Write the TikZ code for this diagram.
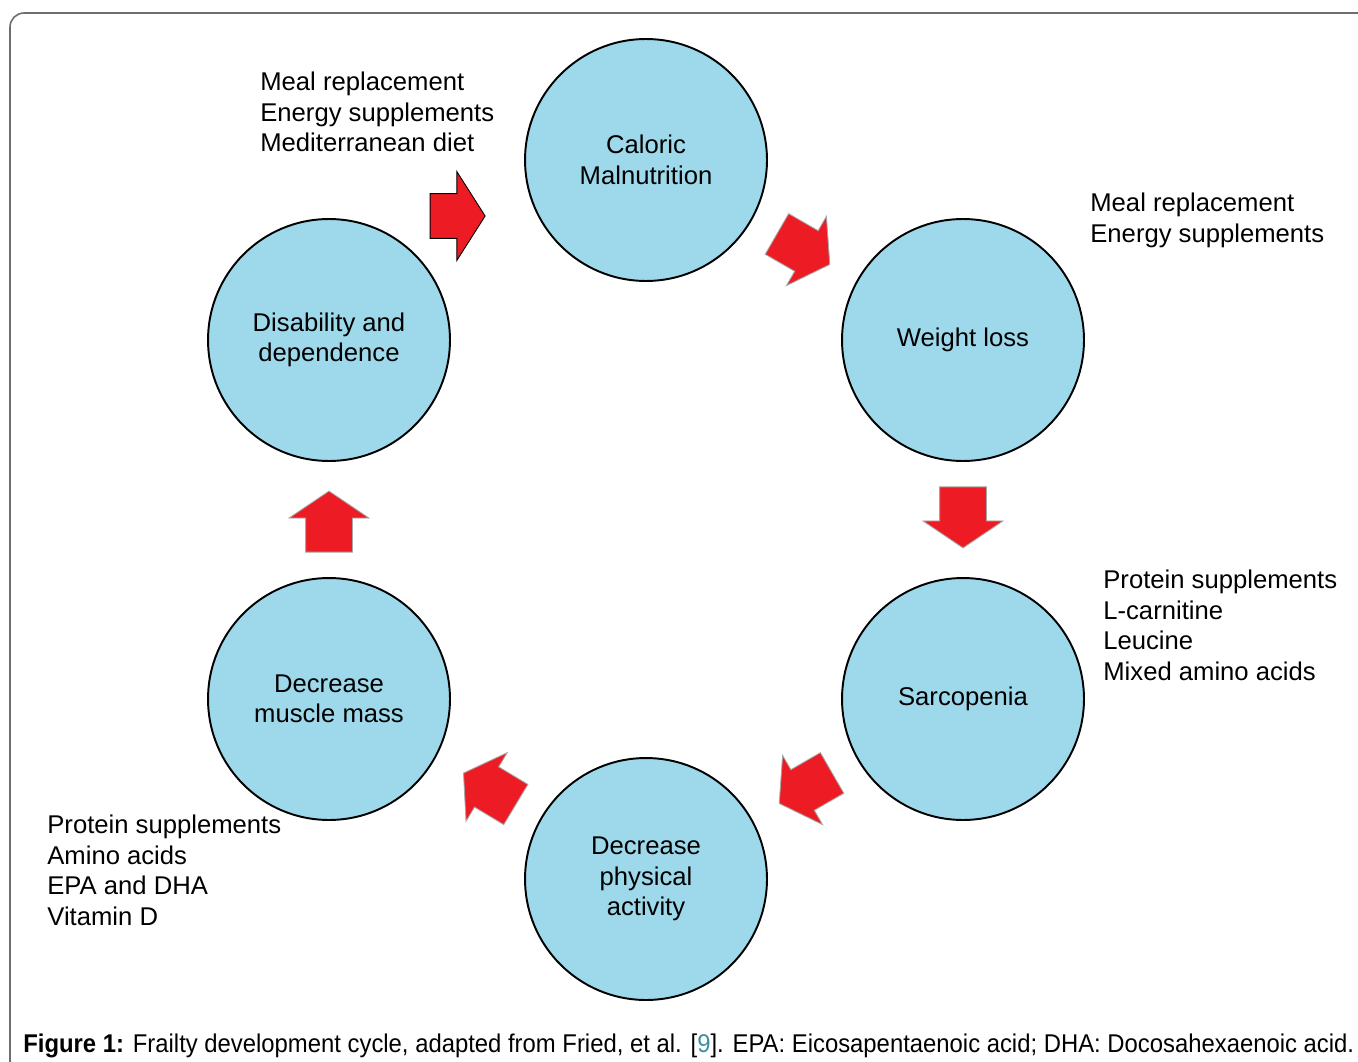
\documentclass[tikz,border=0pt]{standalone}
\usepackage{fontspec}
\setmainfont{Liberation Sans}
\usetikzlibrary{shapes.arrows,positioning}
\definecolor{cyclefill}{HTML}{9DD9EA}
\definecolor{arrowred}{HTML}{ED1C24}
\definecolor{framegray}{HTML}{6E6E6E}
\definecolor{reflink}{HTML}{3B8EA5}
\newcommand{\figfont}{\fontsize{14.6}{17.3}\selectfont}

\begin{document}
\begin{tikzpicture}[x=0.02cm, y=-0.02cm,
  stage/.style={circle, draw=black, line width=1.1pt, fill=cyclefill,
    minimum size=4.84cm, inner sep=0pt, align=center, font=\figfont},
  blockarrow/.style={single arrow, fill=arrowred, draw=black!35, line width=0.5pt,
    inner xsep=0pt, inner ysep=0.46cm, minimum height=1.22cm,
    single arrow head extend=0.33cm, single arrow tip angle=112},
  pointing/.style={rotate=#1, xshift=-0.15cm},
  note/.style={anchor=north west, align=left, inner sep=0pt, font=\figfont},
  caption/.style={anchor=base west, inner sep=0pt, font=\figfont, xscale=0.93}
]
\useasboundingbox (0,0) rectangle (1358,1061);
\clip (0,0) rectangle (1358,1061);
\draw[framegray, line width=0.9pt, rounded corners=8pt] (10,1100) -- (10,13) -- (1420,13);
% stages of the cycle
\node[stage] (malnutrition) at (646,160) {Caloric\\Malnutrition};
\node[stage] (weightloss) at (963,340) {Weight loss};
\node[stage] (sarcopenia) at (963,699) {Sarcopenia};
\node[stage] (activity) at (646,879) {Decrease\\physical\\activity};
\node[stage] (musclemass) at (329,699) {Decrease\\muscle mass};
\node[stage] (disability) at (329,340) {Disability and\\dependence};
% red block arrows
\node[blockarrow, draw=black, minimum height=1.1cm, inner ysep=0.44cm,
  single arrow head extend=0.44cm, single arrow tip angle=115, pointing=0] (toMalnutrition) at (458,216) {};
\node[blockarrow, pointing=-30] (toWeightloss) at (803,249) {};
\node[blockarrow, pointing=-90] (toSarcopenia) at (963,517) {};
\node[blockarrow, pointing=210] (toActivity) at (806,788) {};
\node[blockarrow, pointing=149] (toMusclemass) at (490,789) {};
\node[blockarrow, pointing=90] (toDisability) at (329,522) {};
% interventions
\node[note] (dietnote) at (260,72) {Meal replacement\\Energy supplements\\Mediterranean diet};
\node[note] (energynote) at (1090,193) {Meal replacement\\Energy supplements};
\node[note] (proteinnote) at (1103,570) {Protein supplements\\L-carnitine\\Leucine\\Mixed amino acids};
\node[note] (aminonote) at (47,815) {Protein supplements\\Amino acids\\EPA and DHA\\Vitamin D};
\node[caption] (figcaption) at (23,1052) {\textbf{Figure 1:} Frailty development cycle, adapted from Fried, et al. [\textcolor{reflink}{9}]. EPA: Eicosapentaenoic acid; DHA: Docosahexaenoic acid.};
\end{tikzpicture}
\end{document}
